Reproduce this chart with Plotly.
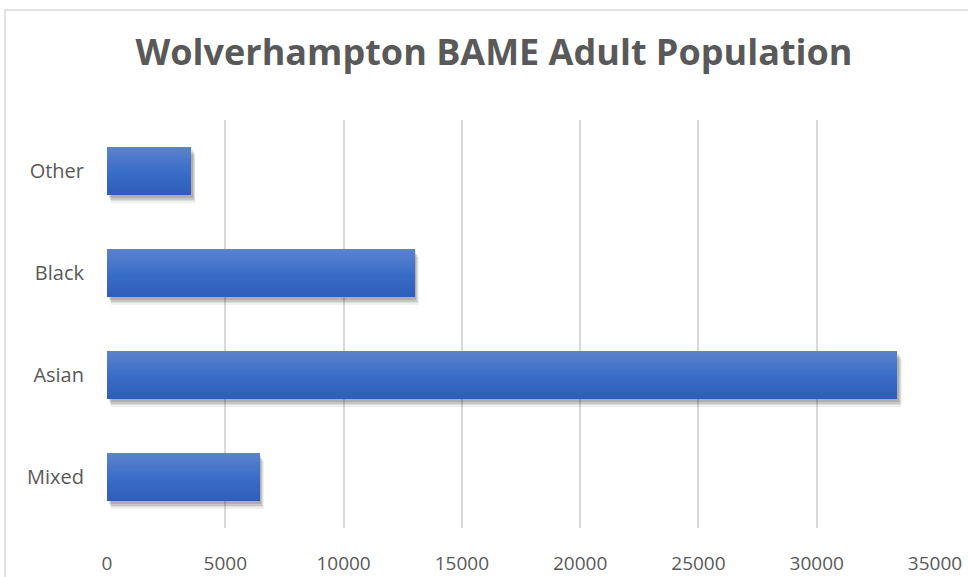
import plotly.graph_objects as go

categories = ["Mixed", "Asian", "Black", "Other"]
values = [6460, 33400, 13000, 3550]
tick_vals = [0, 5000, 10000, 15000, 20000, 25000, 30000, 35000]
tick_text = ["0", "5000", "10000", "15000", "20000", "25000", "30000", "35000"]
title_text = "Wolverhampton BAME Adult Population"

# style: three-stop gradient (bottom, middle, top)
grad_stops = [(47, 94, 186), (58, 110, 200), (92, 129, 205)]
bar_w = 0.47
n_strips = 20


def grad(t):
    if t <= 0.5:
        a, b, u = grad_stops[0], grad_stops[1], t / 0.5
    else:
        a, b, u = grad_stops[1], grad_stops[2], (t - 0.5) / 0.5
    return tuple(int(round(a[k] + (b[k] - a[k]) * u)) for k in range(3))


fig = go.Figure()

# soft shadow layers (beneath/right of bars)
for dx, dy, a in [(190, 0.075, 0.06), (150, 0.06, 0.08), (110, 0.045, 0.10), (70, 0.03, 0.12)]:
    fig.add_trace(go.Bar(
        y=categories, x=values, orientation="h", base=dx,
        width=bar_w, offset=-bar_w / 2 - dy,
        marker=dict(color=f"rgba(0,0,0,{a})", line=dict(width=0)),
        hoverinfo="skip", showlegend=False))

# gradient bar built from strips
h = bar_w / n_strips
for i in range(n_strips):
    t = i / (n_strips - 1)  # 0 bottom -> 1 top
    c = grad(t)
    fig.add_trace(go.Bar(
        y=categories, x=values, orientation="h",
        width=h * 1.02, offset=-bar_w / 2 + i * h,
        marker=dict(color=f"rgb{c}", line=dict(width=0)),
        hoverinfo="skip", showlegend=False))

L, R, T, B = 107, 33, 120, 49
pw, ph = 968 - L - R, 577 - T - B

fig.update_layout(
    width=968, height=577,
    margin=dict(l=L, r=R, t=T, b=B, autoexpand=False),
    paper_bgcolor="white", plot_bgcolor="white",
    barmode="overlay", bargap=0,
    showlegend=False,
    font=dict(family="Open Sans", color="#595959"),
    title=dict(text=f"<b>{title_text}</b>", x=494 / 968, xanchor="center",
               y=1 - 52 / 577, yanchor="middle", yref="container",
               font=dict(size=36, color="#595959", family="Open Sans")),
    xaxis=dict(range=[0, 35000], tickvals=tick_vals, ticktext=tick_text,
               showgrid=True, automargin=False,
               gridcolor="#D9D9D9", gridwidth=2, zeroline=False,
               showline=False, tickfont=dict(size=19, color="#595959"),
               ticks="", ticklabelstandoff=22, fixedrange=True),
    yaxis=dict(categoryorder="array", categoryarray=categories,
               range=[-0.5, 3.5], showgrid=False, zeroline=False,
               showline=False, ticks="", ticklabelstandoff=22, automargin=False,
               tickfont=dict(size=20, color="#595959"), fixedrange=True),
    shapes=[dict(type="rect", xref="paper", yref="paper",
                 x0=(5 - L) / pw, x1=1.2, y0=-0.3, y1=(577 - B - 10) / ph,
                 line=dict(color="#D9D9D9", width=1.5), layer="below")],
)

fig.write_html("out.html")
